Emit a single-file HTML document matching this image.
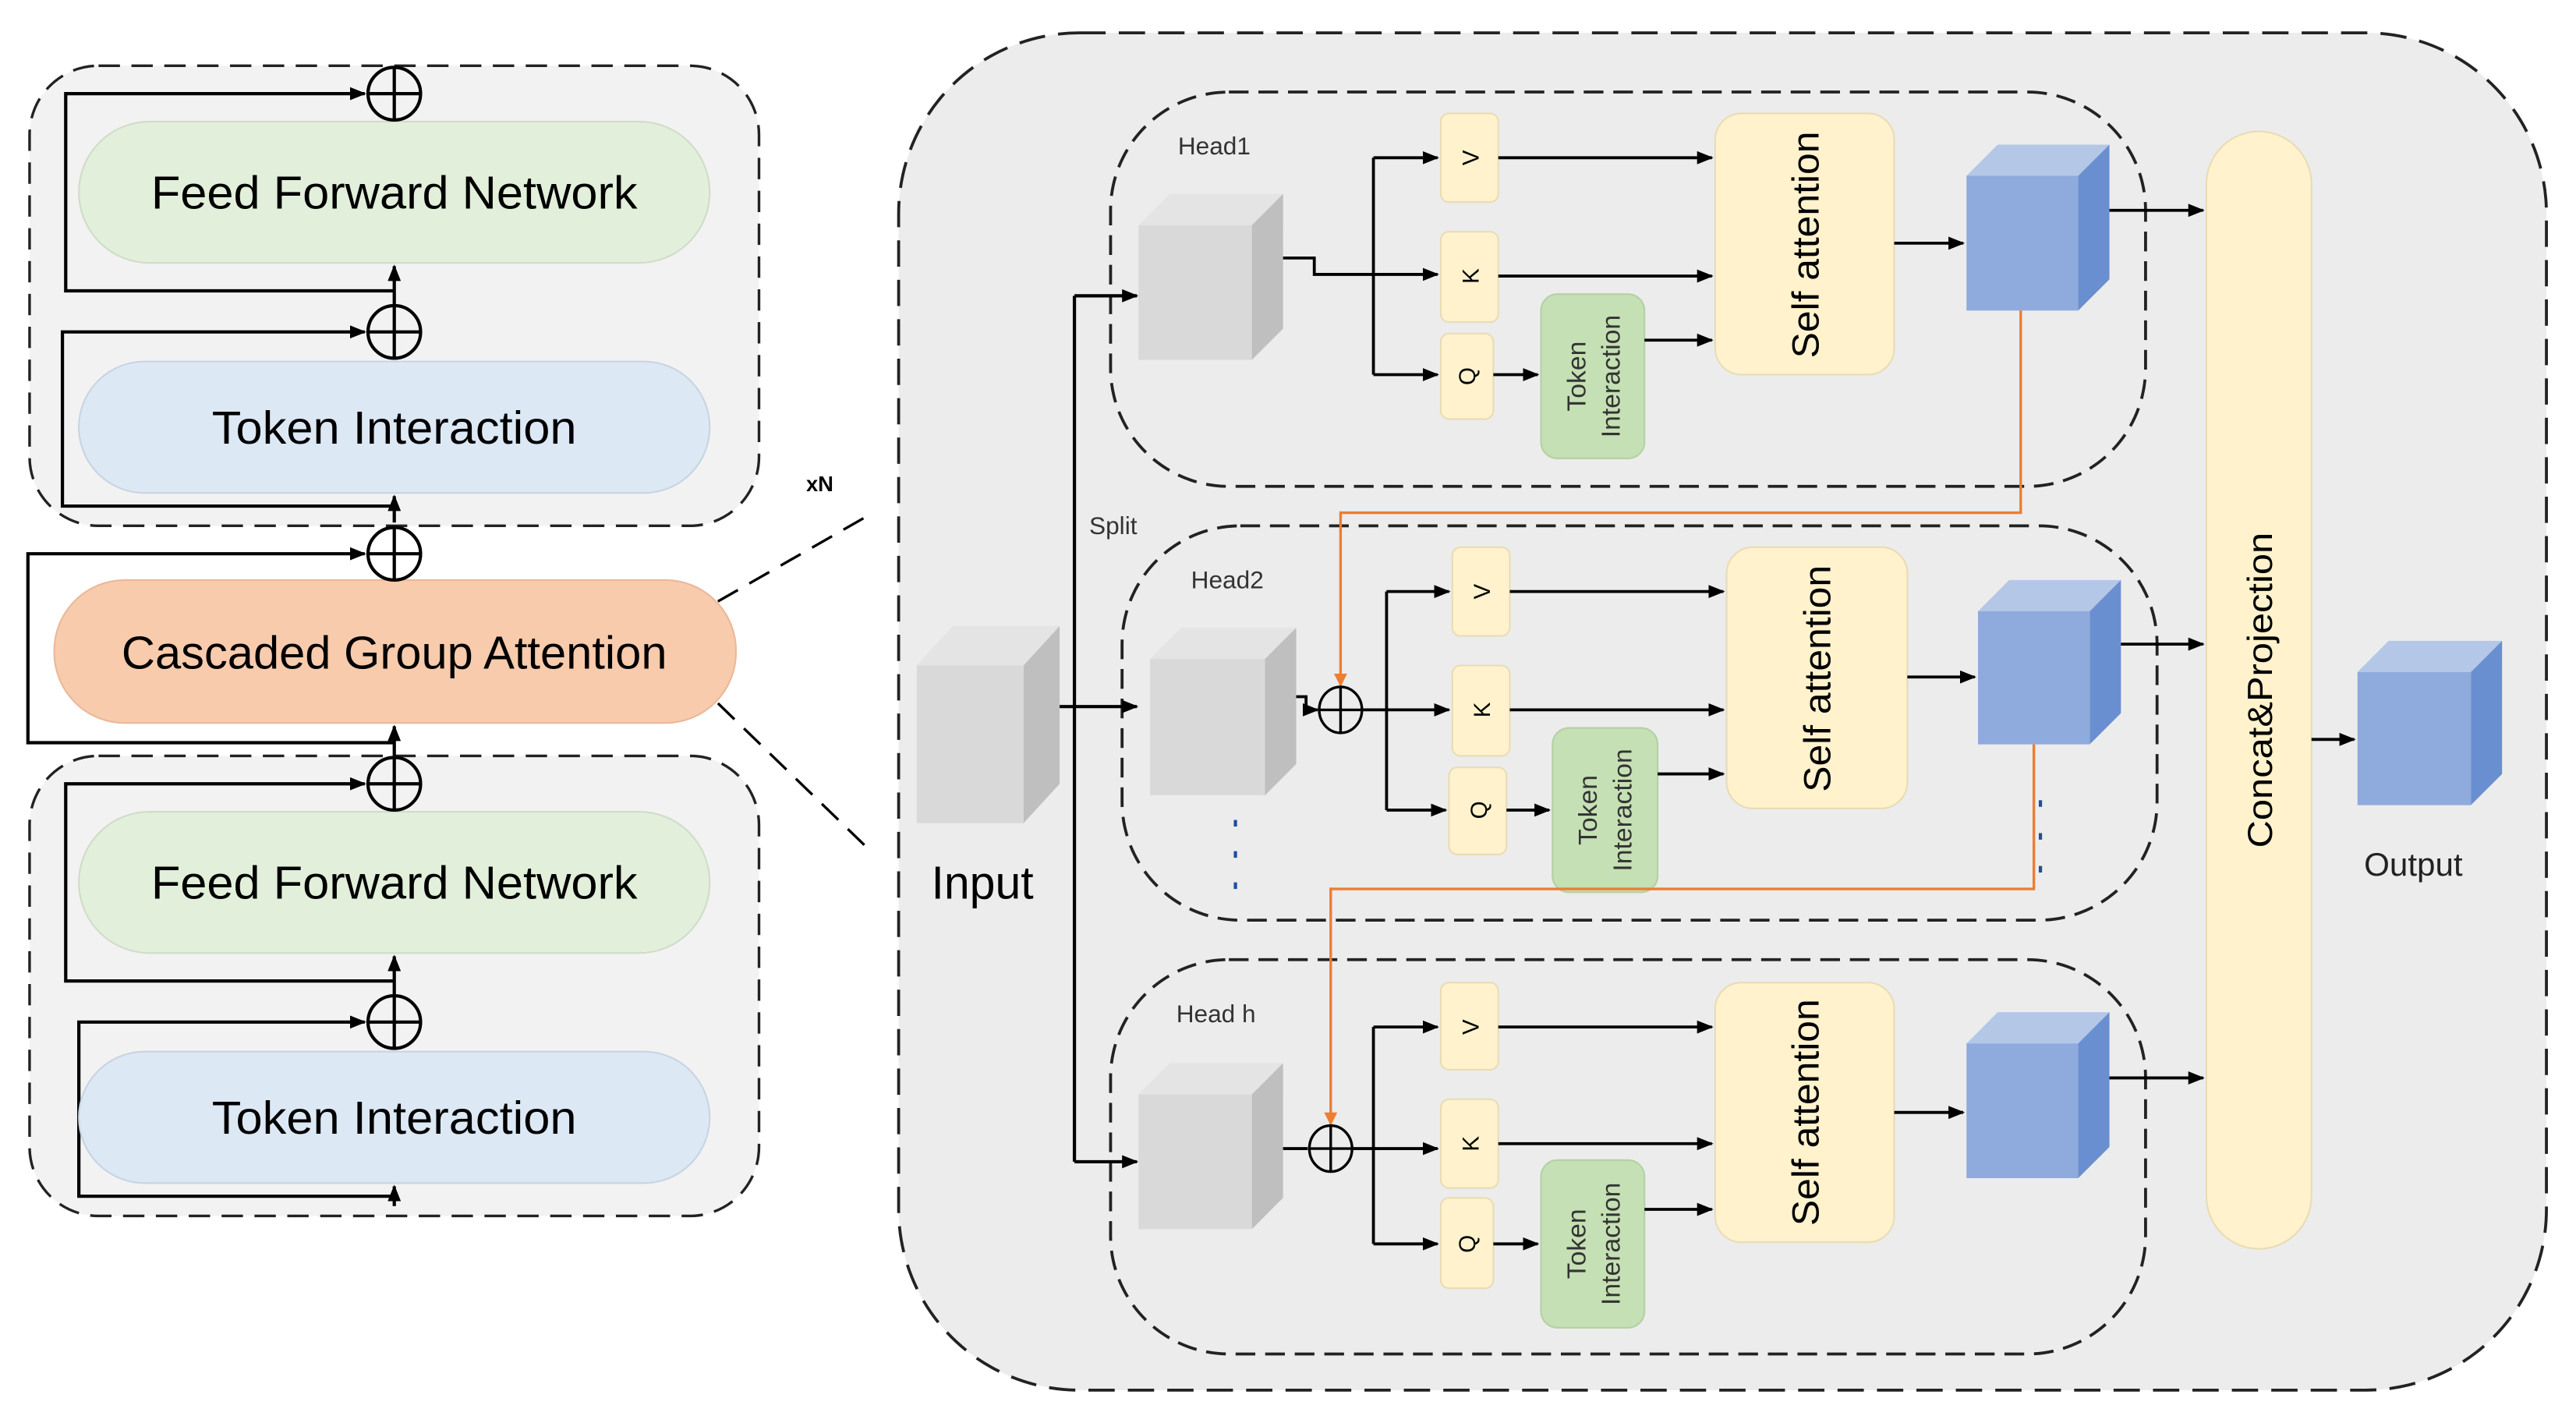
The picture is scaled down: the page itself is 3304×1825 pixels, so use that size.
<!DOCTYPE html>
<html><head><meta charset="utf-8"><style>
html,body{margin:0;padding:0;background:#fff;}
svg{display:block;}
text{font-family:"Liberation Sans","DejaVu Sans",sans-serif;}
</style></head><body>
<svg width="3304" height="1825" viewBox="0 0 1568 866" preserveAspectRatio="none" xmlns="http://www.w3.org/2000/svg">
<defs>
<marker id="a" markerWidth="10" markerHeight="8" refX="9" refY="4" orient="auto" markerUnits="userSpaceOnUse"><path d="M0,0 L10,4 L0,8 z" fill="#000"/></marker>
<marker id="o" markerWidth="8" markerHeight="8" refX="7" refY="4" orient="auto" markerUnits="userSpaceOnUse"><path d="M0,0 L8,4 L0,8 z" fill="#ed7d31"/></marker>
</defs>
<rect width="1568" height="866" fill="#fff"/>

<!-- LEFT PANEL -->
<rect x="18" y="40" width="444" height="280" rx="42" fill="#f2f2f2" stroke="#222" stroke-width="1.6" stroke-dasharray="13,7"/>
<rect x="18" y="460" width="444" height="280" rx="42" fill="#f2f2f2" stroke="#222" stroke-width="1.6" stroke-dasharray="13,7"/>

<g stroke="#000" stroke-width="2" fill="none">
<path d="M240,177 H40 V57 H222" marker-end="url(#a)"/>
<path d="M240,308 H38 V202 H222" marker-end="url(#a)"/>
<path d="M240,452 H17 V337 H222" marker-end="url(#a)"/>
<path d="M240,597 H40 V477 H222" marker-end="url(#a)"/>
<path d="M240,728 H48 V622 H222" marker-end="url(#a)"/>
<path d="M240,186 V162" marker-end="url(#a)"/>
<path d="M240,318 V302" marker-end="url(#a)"/>
<path d="M240,460 V442" marker-end="url(#a)"/>
<path d="M240,606 V582" marker-end="url(#a)"/>
<path d="M240,734 V722" marker-end="url(#a)"/>
</g>

<rect x="48" y="74" width="384" height="86" rx="43" fill="#e2efda" stroke="#d0dcc8"/>
<text x="240" y="127" font-size="28" text-anchor="middle" textLength="296" lengthAdjust="spacingAndGlyphs">Feed Forward  Network</text>
<rect x="48" y="220" width="384" height="80" rx="40" fill="#dde8f5" stroke="#c8d4e2"/>
<text x="240" y="270" font-size="28" text-anchor="middle" textLength="222" lengthAdjust="spacingAndGlyphs">Token Interaction</text>
<rect x="33" y="353" width="415" height="87" rx="43" fill="#f8cbad" stroke="#eab89a"/>
<text x="240" y="407" font-size="28" text-anchor="middle" textLength="332" lengthAdjust="spacingAndGlyphs">Cascaded Group Attention</text>
<rect x="48" y="494" width="384" height="86" rx="43" fill="#e2efda" stroke="#d0dcc8"/>
<text x="240" y="547" font-size="28" text-anchor="middle" textLength="296" lengthAdjust="spacingAndGlyphs">Feed Forward  Network</text>
<rect x="48" y="640" width="384" height="80" rx="40" fill="#dde8f5" stroke="#c8d4e2"/>
<text x="240" y="690" font-size="28" text-anchor="middle" textLength="222" lengthAdjust="spacingAndGlyphs">Token Interaction</text>

<g fill="none" stroke="#000" stroke-width="2">
<circle cx="240" cy="57" r="16"/><path d="M224,57 H256 M240,41 V73"/>
<circle cx="240" cy="202" r="16"/><path d="M224,202 H256 M240,186 V218"/>
<circle cx="240" cy="337" r="16"/><path d="M224,337 H256 M240,321 V353"/>
<circle cx="240" cy="477" r="16"/><path d="M224,477 H256 M240,461 V493"/>
<circle cx="240" cy="622" r="16"/><path d="M224,622 H256 M240,606 V638"/>
</g>
<text x="499" y="299" font-size="13" font-weight="bold" text-anchor="middle">xN</text>
<path d="M437,366 L528,314 M437,428 L530,518" stroke="#000" stroke-width="1.6" stroke-dasharray="14,8" fill="none"/>

<!-- RIGHT PANEL -->
<rect x="547" y="20" width="1003" height="826" rx="110" fill="#ececec" stroke="#222" stroke-width="1.8" stroke-dasharray="16,8"/>

<g fill="none" stroke="#222" stroke-width="1.8" stroke-dasharray="12,6">
<rect x="676" y="56" width="630" height="240" rx="72"/>
<rect x="683" y="320" width="630" height="240" rx="72"/>
<rect x="676" y="584" width="630" height="240" rx="72"/>
</g>
<text x="717" y="94" font-size="15" fill="#333">Head1</text>
<text x="725" y="358" font-size="15" fill="#333">Head2</text>
<text x="716" y="622" font-size="15" fill="#333">Head h</text>
<text x="663" y="325" font-size="15" fill="#333">Split</text>

<!-- Input cube -->
<polygon points="558,405 580,381 645,381 623,405" fill="#e4e4e4"/>
<polygon points="623,405 645,381 645,477 623,501" fill="#bfbfbf"/>
<rect x="558" y="405" width="65" height="96" fill="#d9d9d9"/>
<text x="598" y="547" font-size="28" text-anchor="middle">Input</text>

<g stroke="#000" stroke-width="2" fill="none">
<path d="M645,430 H692" marker-end="url(#a)"/>
<path d="M654,180 V707"/>
<path d="M654,180 H692" marker-end="url(#a)"/>
<path d="M654,707 H692" marker-end="url(#a)"/>
</g>

<g>
<polygon points="693,137 712,118 781,118 762,137" fill="#e4e4e4"/><polygon points="762,137 781,118 781,200 762,219" fill="#bfbfbf"/><rect x="693" y="137" width="69" height="82" fill="#d9d9d9"/>
<polygon points="700,401 719,382 789,382 770,401" fill="#e4e4e4"/><polygon points="770,401 789,382 789,465 770,484" fill="#bfbfbf"/><rect x="700" y="401" width="70" height="83" fill="#d9d9d9"/>
<polygon points="693,666 712,647 781,647 762,666" fill="#e4e4e4"/><polygon points="762,666 781,647 781,729 762,748" fill="#bfbfbf"/><rect x="693" y="666" width="69" height="82" fill="#d9d9d9"/>
</g>

<g>
<polygon points="1197,107 1216,88 1284,88 1265,107" fill="#b4c7e7"/><polygon points="1265,107 1284,88 1284,170 1265,189" fill="#6a8fd0"/><rect x="1197" y="107" width="68" height="82" fill="#8faadc"/>
<polygon points="1204,372 1223,353 1291,353 1272,372" fill="#b4c7e7"/><polygon points="1272,372 1291,353 1291,434 1272,453" fill="#6a8fd0"/><rect x="1204" y="372" width="68" height="81" fill="#8faadc"/>
<polygon points="1197,635 1216,616 1284,616 1265,635" fill="#b4c7e7"/><polygon points="1265,635 1284,616 1284,698 1265,717" fill="#6a8fd0"/><rect x="1197" y="635" width="68" height="82" fill="#8faadc"/>
<polygon points="1435,409 1454,390 1523,390 1504,409" fill="#b4c7e7"/><polygon points="1504,409 1523,390 1523,471 1504,490" fill="#6a8fd0"/><rect x="1435" y="409" width="69" height="81" fill="#8faadc"/>
</g>
<text x="1469" y="533" font-size="20" text-anchor="middle" fill="#222">Output</text>

<rect x="1343" y="80" width="64" height="680" rx="32" fill="#fff2cc" stroke="#e8dcb6"/>
<text transform="translate(1383,420) rotate(-90)" font-size="21" text-anchor="middle" textLength="192" lengthAdjust="spacingAndGlyphs">Concat&amp;Projection</text>

<g fill="#fff2cc" stroke="#e8dcb6">
<rect x="877" y="69" width="35" height="54" rx="5"/><rect x="877" y="141" width="35" height="55" rx="5"/><rect x="877" y="203" width="32" height="52" rx="5"/>
<rect x="1044" y="69" width="109" height="159" rx="16"/>
<rect x="884" y="333" width="35" height="54" rx="5"/><rect x="884" y="405" width="35" height="55" rx="5"/><rect x="882" y="467" width="35" height="53" rx="5"/>
<rect x="1051" y="333" width="110" height="159" rx="16"/>
<rect x="877" y="598" width="35" height="53" rx="5"/><rect x="877" y="669" width="35" height="54" rx="5"/><rect x="877" y="729" width="32" height="55" rx="5"/>
<rect x="1044" y="598" width="109" height="158" rx="16"/>
</g>
<g fill="#c5e0b4" stroke="#b5d0a4">
<rect x="938" y="179" width="63" height="100" rx="10"/>
<rect x="945" y="443" width="64" height="100" rx="10"/>
<rect x="938" y="706" width="63" height="102" rx="10"/>
</g>

<g font-size="14" text-anchor="middle">
<text transform="translate(900,96) rotate(-90)">V</text>
<text transform="translate(900,168) rotate(-90)">K</text>
<text transform="translate(898,229) rotate(-90)">Q</text>
<text transform="translate(907,360) rotate(-90)">V</text>
<text transform="translate(907,432) rotate(-90)">K</text>
<text transform="translate(905,493) rotate(-90)">Q</text>
<text transform="translate(900,625) rotate(-90)">V</text>
<text transform="translate(900,696) rotate(-90)">K</text>
<text transform="translate(898,757) rotate(-90)">Q</text>
</g>
<g font-size="16" text-anchor="middle" fill="#333">
<text transform="translate(965,229) rotate(-90)">Token</text>
<text transform="translate(986,229) rotate(-90)">Interaction</text>
<text transform="translate(972,493) rotate(-90)">Token</text>
<text transform="translate(993,493) rotate(-90)">Interaction</text>
<text transform="translate(965,757) rotate(-90)">Token</text>
<text transform="translate(986,757) rotate(-90)">Interaction</text>
</g>
<g font-size="23" text-anchor="middle">
<text transform="translate(1107,149) rotate(-90)" textLength="138" lengthAdjust="spacingAndGlyphs">Self attention</text>
<text transform="translate(1114,413) rotate(-90)" textLength="138" lengthAdjust="spacingAndGlyphs">Self attention</text>
<text transform="translate(1107,677) rotate(-90)" textLength="138" lengthAdjust="spacingAndGlyphs">Self attention</text>
</g>

<g stroke="#000" stroke-width="1.8" fill="none">
<path d="M781,157 H800 V167 H875" marker-end="url(#a)"/>
<path d="M836,96 V228"/>
<path d="M836,96 H875" marker-end="url(#a)"/>
<path d="M836,228 H875" marker-end="url(#a)"/>
<path d="M909,228 H936" marker-end="url(#a)"/>
<path d="M912,96 H1042" marker-end="url(#a)"/>
<path d="M912,168 H1042" marker-end="url(#a)"/>
<path d="M1001,207 H1042" marker-end="url(#a)"/>
<path d="M1153,148 H1195" marker-end="url(#a)"/>
<path d="M1284,128 H1341" marker-end="url(#a)"/>
<path d="M789,424 H795 V432 H802" marker-end="url(#a)"/>
<path d="M829,432 H882" marker-end="url(#a)"/>
<path d="M844,360 V493"/>
<path d="M844,360 H882" marker-end="url(#a)"/>
<path d="M844,493 H880" marker-end="url(#a)"/>
<path d="M917,493 H943" marker-end="url(#a)"/>
<path d="M919,360 H1049" marker-end="url(#a)"/>
<path d="M919,432 H1049" marker-end="url(#a)"/>
<path d="M1009,471 H1049" marker-end="url(#a)"/>
<path d="M1161,412 H1202" marker-end="url(#a)"/>
<path d="M1291,392 H1341" marker-end="url(#a)"/>
<path d="M781,699 H796"/>
<path d="M823,699 H875" marker-end="url(#a)"/>
<path d="M836,625 V757"/>
<path d="M836,625 H875" marker-end="url(#a)"/>
<path d="M836,757 H875" marker-end="url(#a)"/>
<path d="M909,757 H936" marker-end="url(#a)"/>
<path d="M912,625 H1042" marker-end="url(#a)"/>
<path d="M912,696 H1042" marker-end="url(#a)"/>
<path d="M1001,736 H1042" marker-end="url(#a)"/>
<path d="M1153,677 H1195" marker-end="url(#a)"/>
<path d="M1284,656 H1341" marker-end="url(#a)"/>
<path d="M1407,450 H1433" marker-end="url(#a)"/>
</g>

<g stroke="#ed7d31" stroke-width="1.6" fill="none">
<path d="M1230,189 V312 H816 V417" marker-end="url(#o)"/>
<path d="M1238,453 V541 H810 V684" marker-end="url(#o)"/>
</g>
<g fill="none" stroke="#000" stroke-width="1.6">
<ellipse cx="816" cy="432" rx="13" ry="14"/><path d="M803,432 H829 M816,418 V446"/>
<ellipse cx="810" cy="699" rx="13" ry="14"/><path d="M797,699 H823 M810,685 V713"/>
</g>
<g fill="#1f4e9a">
<rect x="751" y="499" width="2" height="4"/><rect x="751" y="518" width="2" height="4"/><rect x="751" y="537" width="2" height="4"/>
<rect x="1241" y="487" width="2" height="4"/><rect x="1241" y="507" width="2" height="4"/><rect x="1241" y="527" width="2" height="4"/>
</g>
</svg>
</body></html>
